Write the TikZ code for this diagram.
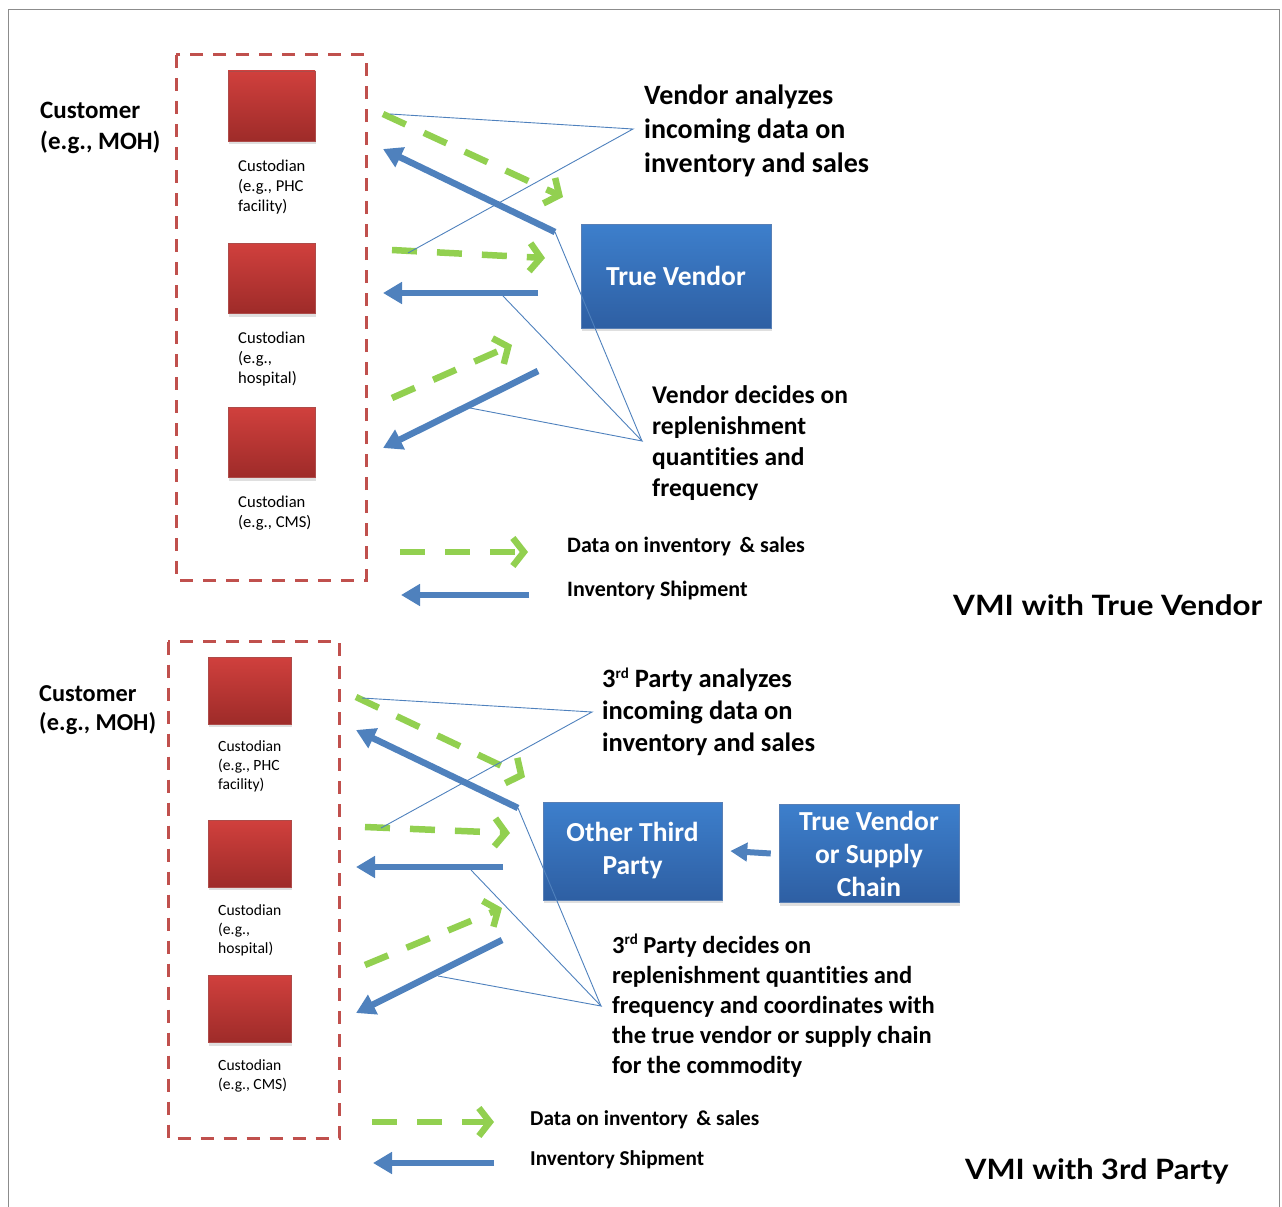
\documentclass[tikz,border=0pt]{standalone}
\usepackage{fontspec}
\setmainfont{Carlito}[Ligatures=CommonOff]
\newfontfamily\headfont{Lato}
\usetikzlibrary{arrows.meta,shadows}

\definecolor{dataGreen}{HTML}{92D050}
\definecolor{shipBlue}{HTML}{4F81BD}
\definecolor{groupRed}{HTML}{C0504D}
\definecolor{redTop}{RGB}{208,64,61}
\definecolor{redBot}{RGB}{158,43,41}
\definecolor{blueTop}{RGB}{61,127,204}
\definecolor{blueBot}{RGB}{46,95,163}
\definecolor{frameGray}{RGB}{140,140,140}

% small raised ordinal suffix
\newcommand{\ordsup}[1]{\raisebox{0.36em}{\fontsize{15}{15}\selectfont #1}}

\begin{document}
% multi-line labels are placed by the baseline of their last line
\begin{tikzpicture}[x=1pt,y=-1pt,
  custodian/.style={rectangle, inner sep=0pt, top color=redTop, bottom color=redBot,
    draw=redBot!85!white, line width=0.4pt,
    drop shadow={shadow xshift=1pt,shadow yshift=-3pt,opacity=0.25}},
  party/.style={rectangle, inner sep=0pt, top color=blueTop, bottom color=blueBot,
    draw=blueBot!80!white, line width=0.5pt, text=white, align=center,
    font=\fontsize{27.5}{33}\selectfont\bfseries,
    drop shadow={shadow xshift=1pt,shadow yshift=-3pt,opacity=0.25}},
  group/.style={draw=groupRed, line width=3pt, dash pattern=on 13pt off 10pt},
  lbl/.style={anchor=base west, inner sep=0pt, align=left},
  datarrow/.style={draw=dataGreen, line width=6.5pt, dash pattern=on 25pt off 20pt,
    -{Straight Barb[length=11pt,width=28pt]}},
  shiparrow/.style={draw=shipBlue, line width=6.5pt, -{Triangle[length=19pt,width=21pt]}},
  callout/.style={draw=shipBlue, line width=0.9pt},
  heading/.style={anchor=base west, inner sep=0pt, font=\headfont\fontsize{28}{32}\selectfont\bfseries}
]
\useasboundingbox (0,0) rectangle (1282,1207);

% outer frame
\draw[frameGray, line width=1.5pt] (8.5,1207) -- (8.5,9.5) -- (1279.5,9.5) -- (1279.5,1207);

%%%%%%%%%%%%%%%% VMI with true vendor %%%%%%%%%%%%%%%%
\draw[group] (176,55) rectangle (366,580);

\node[custodian, minimum width=87pt, minimum height=70pt] (c1) at (271.5,106) {};
\node[custodian, minimum width=87pt, minimum height=70pt] (c2) at (271.5,278.5) {};
\node[custodian, minimum width=87pt, minimum height=70pt] (c3) at (271.5,442.5) {};

\node[lbl, font=\fontsize{16.6}{20.4}\selectfont] (l1) at (238,211.8) {Custodian\\(e.g., PHC\\facility)};
\node[lbl, font=\fontsize{16.6}{20.4}\selectfont] (l2) at (238,383.8) {Custodian\\(e.g.,\\hospital)};
\node[lbl, font=\fontsize{16.6}{20.4}\selectfont] (l3) at (238,527.4) {Custodian\\(e.g., CMS)};

\node[lbl, font=\fontsize{25}{30.7}\selectfont\bfseries] (cust) at (40,149) {Customer\\(e.g., MOH)};

\node[lbl, font=\fontsize{28}{34.3}\selectfont\bfseries] (ana) at (644,172.6) {Vendor analyzes\\incoming data on\\inventory and sales};
\node[lbl, font=\fontsize{25.5}{31}\selectfont\bfseries] (dec) at (652,496.3) {Vendor decides on\\replenishment\\quantities and\\frequency};

\node[party, minimum width=190pt, minimum height=104pt] (tv) at (676,276) {True Vendor};

% flows
\coordinate (g1s) at (383,114);  \coordinate (g1e) at (563,197);
\coordinate (b1s) at (555,232);  \coordinate (b1e) at (383,149);
\coordinate (g2s) at (392,250);  \coordinate (g2e) at (545,258);
\coordinate (b2s) at (538,293);  \coordinate (b2e) at (383,293);
\coordinate (g3s) at (392,398);  \coordinate (g3e) at (512,345);
\coordinate (b3s) at (538,371);  \coordinate (b3e) at (383,448);

\draw[datarrow] (g1s) -- (g1e);
\draw[datarrow] (g2s) -- (g2e);
\draw[datarrow] (g3s) -- (g3e);
\draw[shiparrow] (b1s) -- (b1e);
\draw[shiparrow] (b2s) -- (b2e);
\draw[shiparrow] (b3s) -- (b3e);

% callout leaders
\coordinate (anaTip) at (633,129);
\coordinate (decTip) at (642,441);
\coordinate (anaA) at (390,114);
\coordinate (anaB) at (408,253);
\coordinate (decA) at (470,408);
\coordinate (decB) at (503,296);
\draw[callout] (anaA) -- (anaTip) -- (anaB);
\draw[callout] (decA) -- (decTip) -- (decB);
\draw[callout] (decTip) -- (b1s);

% legend
\coordinate (kg1s) at (400,552); \coordinate (kg1e) at (528,552);
\coordinate (kb1s) at (529,595); \coordinate (kb1e) at (401,595);
\draw[datarrow] (kg1s) -- (kg1e);
\draw[shiparrow] (kb1s) -- (kb1e);
\node[lbl, font=\fontsize{22}{26}\selectfont\bfseries] (k1) at (567,552.7) {Data on inventory \,\& sales};
\node[lbl, font=\fontsize{22}{26}\selectfont\bfseries] (k2) at (567,596.7) {Inventory Shipment};

\node[heading] (t1) at (953,615) {\scalebox{1.12}[1]{VMI with True Vendor}};

%%%%%%%%%%%%%%%% VMI with a third party %%%%%%%%%%%%%%%%
\draw[group] (168,641.7) rectangle (339.5,1138);

\node[custodian, minimum width=83pt, minimum height=67pt] (d1) at (249.5,690.5) {};
\node[custodian, minimum width=83pt, minimum height=67pt] (d2) at (249.5,853.5) {};
\node[custodian, minimum width=83pt, minimum height=67pt] (d3) at (249.5,1009) {};

\node[lbl, font=\fontsize{15.6}{19}\selectfont] (m1) at (218,789.7) {Custodian\\(e.g., PHC\\facility)};
\node[lbl, font=\fontsize{15.6}{19}\selectfont] (m2) at (218,953.7) {Custodian\\(e.g.,\\hospital)};
\node[lbl, font=\fontsize{15.6}{19}\selectfont] (m3) at (218,1089.7) {Custodian\\(e.g., CMS)};

\node[lbl, font=\fontsize{24.3}{29.7}\selectfont\bfseries] (cust2) at (39,730.7) {Customer\\(e.g., MOH)};

\node[lbl, font=\fontsize{26.5}{32}\selectfont\bfseries] (ana2) at (602,751.7) {3\ordsup{rd} Party analyzes\\incoming data on\\inventory and sales};
\node[lbl, font=\fontsize{24.5}{30}\selectfont\bfseries] (dec2) at (612,1073.3) {3\ordsup{rd} Party decides on\\replenishment quantities and\\frequency and coordinates with\\the true vendor or supply chain\\for the commodity};

\node[party, minimum width=179pt, minimum height=98pt] (otp) at (632.5,851) {Other Third\\Party};
\node[party, minimum width=180pt, minimum height=98pt] (tvs) at (869,853.5) {True Vendor\\or Supply\\Chain};

\draw[draw=shipBlue, line width=6pt, -{Triangle[length=17pt,width=18pt]}] ([xshift=-8pt]tvs.west) -- ([xshift=8pt]otp.east);

% flows
\coordinate (h1s) at (356,697);  \coordinate (h1e) at (525,777);
\coordinate (e1s) at (518,808);  \coordinate (e1e) at (356,730);
\coordinate (h2s) at (365,827);  \coordinate (h2e) at (510,833);
\coordinate (e2s) at (503,867);  \coordinate (e2e) at (356,867);
\coordinate (h3s) at (365,965);  \coordinate (h3e) at (502,908);
\coordinate (e3s) at (502,940);  \coordinate (e3e) at (356,1013);

\draw[datarrow] (h1s) -- (h1e);
\draw[datarrow] (h2s) -- (h2e);
\draw[datarrow] (h3s) -- (h3e);
\draw[shiparrow] (e1s) -- (e1e);
\draw[shiparrow] (e2s) -- (e2e);
\draw[shiparrow] (e3s) -- (e3e);

% callout leaders
\coordinate (anaTip2) at (592,712);
\coordinate (decTip2) at (601,1006);
\coordinate (anaC) at (362,698);
\coordinate (anaD) at (381,828);
\coordinate (decC) at (438,976);
\coordinate (decD) at (471,870);
\draw[callout] (anaC) -- (anaTip2) -- (anaD);
\draw[callout] (decC) -- (decTip2) -- (decD);
\draw[callout] (decTip2) -- (e1s);

% legend
\coordinate (kg2s) at (372,1122); \coordinate (kg2e) at (494,1122);
\coordinate (kb2s) at (494,1163); \coordinate (kb2e) at (373,1163);
\draw[datarrow] (kg2s) -- (kg2e);
\draw[shiparrow] (kb2s) -- (kb2e);
\node[lbl, font=\fontsize{21.2}{25}\selectfont\bfseries] (k3) at (530,1125) {Data on inventory \,\& sales};
\node[lbl, font=\fontsize{21.2}{25}\selectfont\bfseries] (k4) at (530,1165) {Inventory Shipment};

\node[heading] (t2) at (965,1179) {\scalebox{1.1}[1]{VMI with 3rd Party}};
\end{tikzpicture}
\end{document}
